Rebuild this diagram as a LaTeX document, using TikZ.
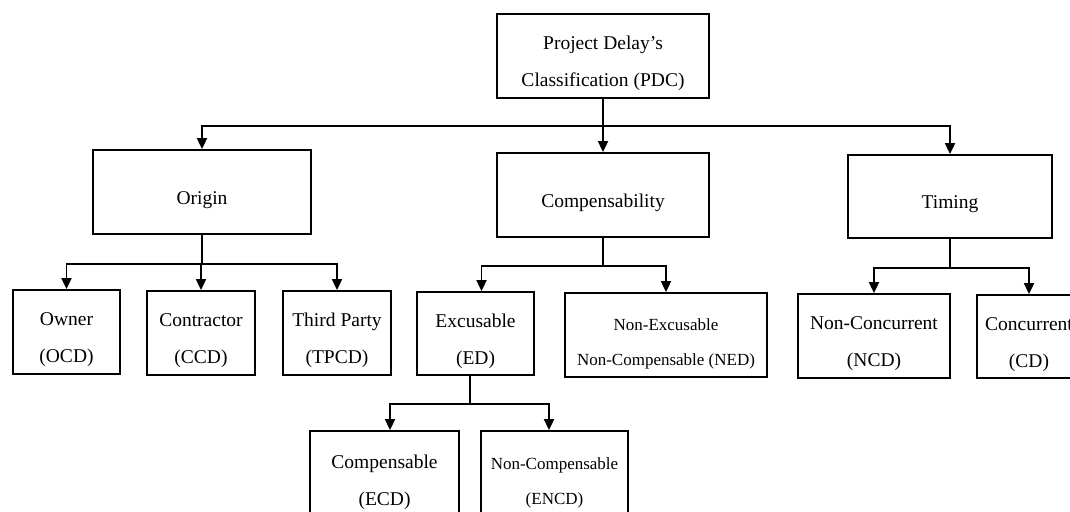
\documentclass[tikz,border=0pt]{standalone}
\usepackage{fontspec}
\setmainfont{Liberation Serif}
\usetikzlibrary{arrows.meta}
% a tall invisible strut that pushes the first text line down a little
\newcommand{\toppad}{\rule{0pt}{29pt}}
\begin{document}
\begin{tikzpicture}[x=1pt,y=-1pt,
  box/.style={draw, line width=1.8pt, align=center, inner sep=0pt,
              font=\fontsize{19.5}{37}\selectfont},
  small/.style={font=\fontsize{17}{35}\selectfont},
  link/.style={line width=1.8pt},
  arr/.style={link, -{Triangle[width=10pt,length=11pt]}}]
\useasboundingbox (0,0) rectangle (1070,511);
\clip (0,0) rectangle (1070,511);

% root
\node[box, minimum width=212pt, minimum height=84pt] (pdc) at (603,56)
  {\toppad Project Delay’s\\Classification (PDC)};

% first level
\node[box, minimum width=218pt, minimum height=84pt] (origin) at (202,192) {\toppad Origin};
\node[box, minimum width=212pt, minimum height=84pt] (comp) at (603,195) {\toppad Compensability};
\node[box, minimum width=204pt, minimum height=83pt] (timing) at (950,196.5) {\toppad Timing};

% second level
\node[box, minimum width=107pt, minimum height=84pt] (owner) at (66.5,332) {\toppad Owner\\(OCD)};
\node[box, minimum width=108pt, minimum height=84pt] (contr) at (201,333) {\toppad Contractor\\(CCD)};
\node[box, minimum width=108pt, minimum height=84pt] (third) at (337,333) {\toppad Third Party\\(TPCD)};
\node[box, minimum width=117pt, minimum height=83pt] (ed) at (475.5,333.5) {\toppad Excusable\\(ED)};
\node[box, small, minimum width=202pt, minimum height=84pt] (ned) at (666,335)
  {\toppad Non-Excusable\\Non-Compensable (NED)};
\node[box, minimum width=152pt, minimum height=84pt] (ncd) at (874,336) {\toppad Non-Concurrent\\(NCD)};
\node[box, minimum width=104pt, minimum height=83pt] (cd) at (1029,336.5) {\toppad Concurrent\\(CD)};

% third level
\node[box, minimum width=149pt, minimum height=87pt] (ecd) at (384.5,474.5) {\toppad Compensable\\(ECD)};
\node[box, small, minimum width=147pt, minimum height=87pt] (encd) at (554.5,474.5)
  {\toppad Non-Compensable\\(ENCD)};

% connectors from the root
\draw[link] (pdc.south) -- ++(0,27) coordinate (pj);
\draw[arr] (pj) -| (origin.north);
\draw[arr] (pj) -- (comp.north);
\draw[arr] (pj) -| (timing.north);

% origin branch
\draw[link] (origin.south) -- ++(0,29) coordinate (oj);
\draw[arr] (oj) -| (owner.north);
\draw[arr] (oj) -| (contr.north);
\draw[arr] (oj) -| (third.north);

% compensability branch
\draw[link] (comp.south) -- ++(0,28) coordinate (cj);
\draw[arr] (cj) -| ([xshift=6pt]ed.north);
\draw[arr] (cj) -| (ned.north);

% timing branch
\draw[link] (timing.south) -- ++(0,29) coordinate (tj);
\draw[arr] (tj) -| (ncd.north);
\draw[arr] (tj) -| (cd.north);

% excusable branch
\draw[link] ([xshift=-5.5pt]ed.south) -- ++(0,28) coordinate (ej);
\draw[arr] (ej) -| ([xshift=5.5pt]ecd.north);
\draw[arr] (ej) -| ([xshift=-5.5pt]encd.north);
\end{tikzpicture}
\end{document}
